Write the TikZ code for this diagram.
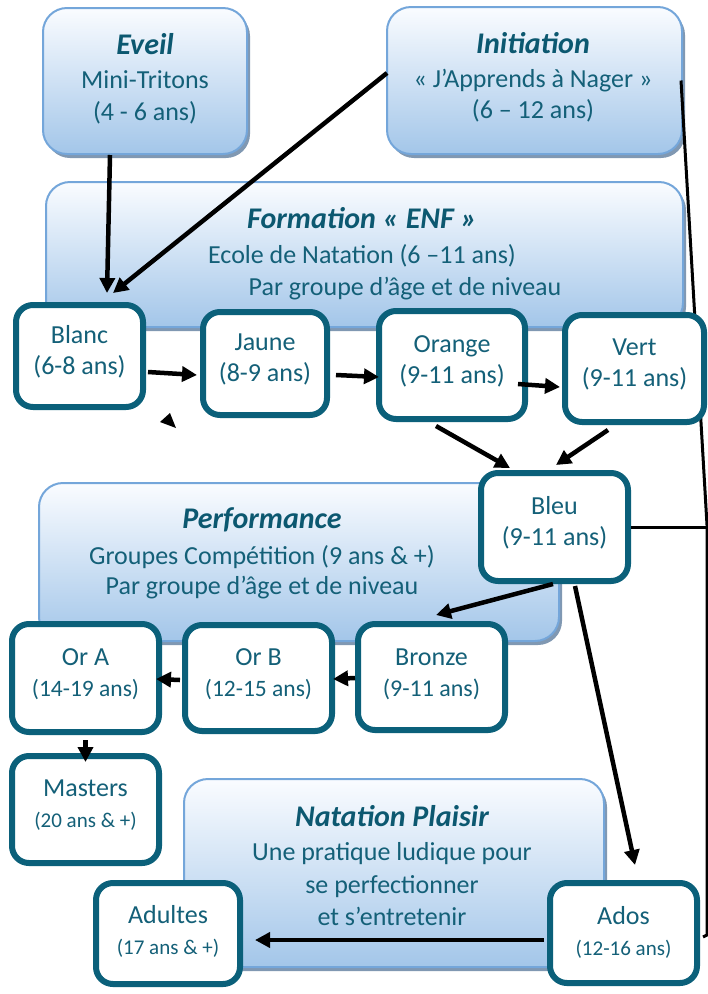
\documentclass[tikz,border=0pt]{standalone}
\usepackage{fontspec}
\setmainfont{Carlito}
\usetikzlibrary{arrows.meta,shadows}
\definecolor{edgeblue}{RGB}{116,166,218}
\definecolor{gradtop}{RGB}{250,252,255}
\definecolor{gradbot}{RGB}{163,198,233}
\definecolor{shadowc}{RGB}{128,152,178}
\definecolor{tealedge}{RGB}{11,96,122}
\definecolor{txt}{RGB}{20,96,120}
\definecolor{ttl}{RGB}{12,88,112}
\begin{document}
\begin{tikzpicture}[x=1pt,y=-1pt,
 bluebox/.style={draw=edgeblue,line width=2pt,rounded corners=24pt,top color=gradtop,bottom color=gradbot,
   drop shadow={shadow xshift=3pt,shadow yshift=-4pt,fill=shadowc,opacity=1},inner sep=0pt},
 tealbox/.style={draw=tealedge,line width=6pt,rounded corners=17pt,fill=white,inner sep=0pt},
 ttlfont/.style={font=\fontsize{30}{34}\selectfont\bfseries\itshape,text=ttl,anchor=base,inner sep=0pt},
 bodyfont/.style={font=\fontsize{26}{32}\selectfont,text=txt,anchor=base,inner sep=0pt},
 boxtext/.style={font=\fontsize{26}{31}\selectfont,text=txt,align=center,inner sep=0pt},
 arr/.style={line width=4.5pt,-{Triangle[length=15pt,width=15pt]}},
 sideline/.style={line width=3pt}
]
\useasboundingbox (0,0) rectangle (708,994);

% blue boxes
\node[bluebox,minimum width=204pt,minimum height=146pt] (eveil) at (145,81) {};
\node[bluebox,minimum width=295pt,minimum height=147pt] (init) at (534.5,80.5) {};
\node[bluebox,minimum width=637pt,minimum height=145pt] (form) at (364.5,254.5) {};
\node[bluebox,minimum width=520pt,minimum height=158pt] (perf) at (299,562) {};
\node[bluebox,minimum width=420pt,minimum height=188pt] (plaisir) at (394,873) {};

% blue box texts
\node[ttlfont] (eveil-t) at (145,54) {Eveil};
\node[bodyfont] (eveil-a) at (145,88) {Mini-Tritons};
\node[bodyfont] (eveil-b) at (145,120) {(4 - 6 ans)};

\node[ttlfont] (init-t) at (533,53.5) {Initiation};
\node[bodyfont] (init-a) at (533,87) {« J’Apprends à Nager »};
\node[bodyfont] (init-b) at (533,118) {(6 – 12 ans)};

\node[ttlfont] (form-t) at (362,228) {Formation « ENF »};
\node[bodyfont] (form-a) at (362,263) {Ecole de Natation (6 –11 ans)};
\node[bodyfont] (form-b) at (405,295) {Par groupe d’âge et de niveau};

\node[ttlfont] (perf-t) at (262,528) {Performance};
\node[bodyfont] (perf-a) at (262,564) {Groupes Compétition (9 ans \& +)};
\node[bodyfont] (perf-b) at (262,594) {Par groupe d’âge et de niveau};

\node[ttlfont] (plaisir-t) at (392,826) {Natation Plaisir};
\node[bodyfont] (plaisir-a) at (392,860) {Une pratique ludique pour};
\node[bodyfont] (plaisir-b) at (392,893) {se perfectionner};
\node[bodyfont] (plaisir-c) at (392,925) {et s’entretenir};

% right-hand line (behind the teal boxes)
\coordinate (rtop) at (707,525);
\coordinate (rbot) at (707,935);
\coordinate (rend) at (703,937);
\draw[sideline] ([xshift=-2pt]init.east) -- (rtop) -- (rbot) -- (rend);

% teal boxes
\node[tealbox,minimum width=127pt,minimum height=102pt] (blanc) at (79.5,356) {};
\node[tealbox,minimum width=124pt,minimum height=103pt] (jaune) at (265,363.5) {};
\node[tealbox,minimum width=146pt,minimum height=108pt] (orange) at (452,365) {};
\node[tealbox,minimum width=139pt,minimum height=107pt] (vert) at (634.5,368.5) {};
\node[tealbox,minimum width=147pt,minimum height=108pt] (bleu) at (554.5,527) {};
\node[tealbox,minimum width=147pt,minimum height=106pt] (bronze) at (431.5,677) {};
\node[tealbox,minimum width=147pt,minimum height=106pt] (orb) at (258.5,678) {};
\node[tealbox,minimum width=147pt,minimum height=108pt] (ora) at (85.5,678) {};
\node[tealbox,minimum width=147pt,minimum height=107pt] (masters) at (85.5,809.5) {};
\node[tealbox,minimum width=144pt,minimum height=101pt] (adultes) at (168,933.5) {};
\node[tealbox,minimum width=147pt,minimum height=100pt] (ados) at (623.5,933) {};

% teal box texts
\node[boxtext] (blanc-t) at ([yshift=4pt]blanc.center) {Blanc\\(6-8 ans)};
\node[boxtext] (jaune-t) at ([yshift=4pt]jaune.center) {Jaune\\(8-9 ans)};
\node[boxtext] (orange-t) at ([yshift=4pt]orange.center) {Orange\\(9-11 ans)};
\node[boxtext] (vert-t) at ([yshift=4pt]vert.center) {Vert\\(9-11 ans)};
\node[boxtext] (bleu-t) at ([yshift=4pt]bleu.center) {Bleu\\(9-11 ans)};
\node[boxtext] (bronze-t) at ([yshift=3pt]bronze.center) {Bronze\\{\fontsize{24}{30}\selectfont(9-11 ans)}};
\node[boxtext] (orb-t) at ([yshift=4pt]orb.center) {Or B\\{\fontsize{23.5}{30}\selectfont(12-15 ans)}};
\node[boxtext] (ora-t) at ([yshift=4pt]ora.center) {Or A\\{\fontsize{23.5}{30}\selectfont(14-19 ans)}};
\node[boxtext] (masters-t) at ([yshift=4pt]masters.center) {Masters\\{\fontsize{21}{28}\selectfont(20 ans \& +)}};
\node[boxtext] (adultes-t) at ([yshift=2pt]adultes.center) {Adultes\\{\fontsize{21}{28}\selectfont(17 ans \& +)}};
\node[boxtext] (ados-t) at ([yshift=1pt]ados.center) {Ados\\{\fontsize{21}{28}\selectfont(12-16 ans)}};

% connectors
\draw[sideline] (bleu.east) -- (bleu.east -| rtop);
\draw[arr] ([xshift=-35pt]eveil.south) -- ([xshift=27.5pt,yshift=9pt]blanc.north);
\draw[arr] ([xshift=1pt,yshift=7.5pt]init.west) -- ([xshift=33.5pt,yshift=9pt]blanc.north);
\draw[arr] ([xshift=2pt,yshift=-16pt]blanc.east) -- ([xshift=-3pt,yshift=-11.5pt]jaune.west);
\draw[arr] ([xshift=6pt,yshift=-11.5pt]jaune.east) -- ([xshift=3pt,yshift=-12pt]orange.west);
\draw[arr] ([xshift=-10pt,yshift=-19pt]orange.east) -- ([xshift=-2pt,yshift=-18.5pt]vert.west);
\draw[arr] ([xshift=-16pt,yshift=-4pt]orange.south) -- ([xshift=-44.5pt,yshift=2pt]bleu.north);
\draw[arr] ([xshift=-26.5pt,yshift=-5pt]vert.south) -- ([xshift=1.5pt,yshift=5pt]bleu.north);
\draw[arr] ([xshift=-1.5pt]bleu.south) -- ([xshift=4.5pt,yshift=6pt]bronze.north);
\draw[arr] ([xshift=20.5pt,yshift=-2pt]bleu.south) -- ([xshift=11.5pt,yshift=15pt]ados.north);
\draw[arr] ([yshift=-1pt]bronze.west) -- ([xshift=-2pt,yshift=-1pt]orb.east);
\draw[arr] ([xshift=-2pt,yshift=-2pt]orb.west) -- ([xshift=-6pt,yshift=-1pt]ora.east);
\draw[arr] ([yshift=-5pt]ora.south) -- ([yshift=-9pt]masters.north);
\draw[arr] ([xshift=-3pt,yshift=-7pt]ados.west) -- ([xshift=12pt,yshift=-6.5pt]adultes.east);

% stray arrowhead
\fill (160,422) -- (170,413) -- (176,428) -- cycle;
\end{tikzpicture}
\end{document}
